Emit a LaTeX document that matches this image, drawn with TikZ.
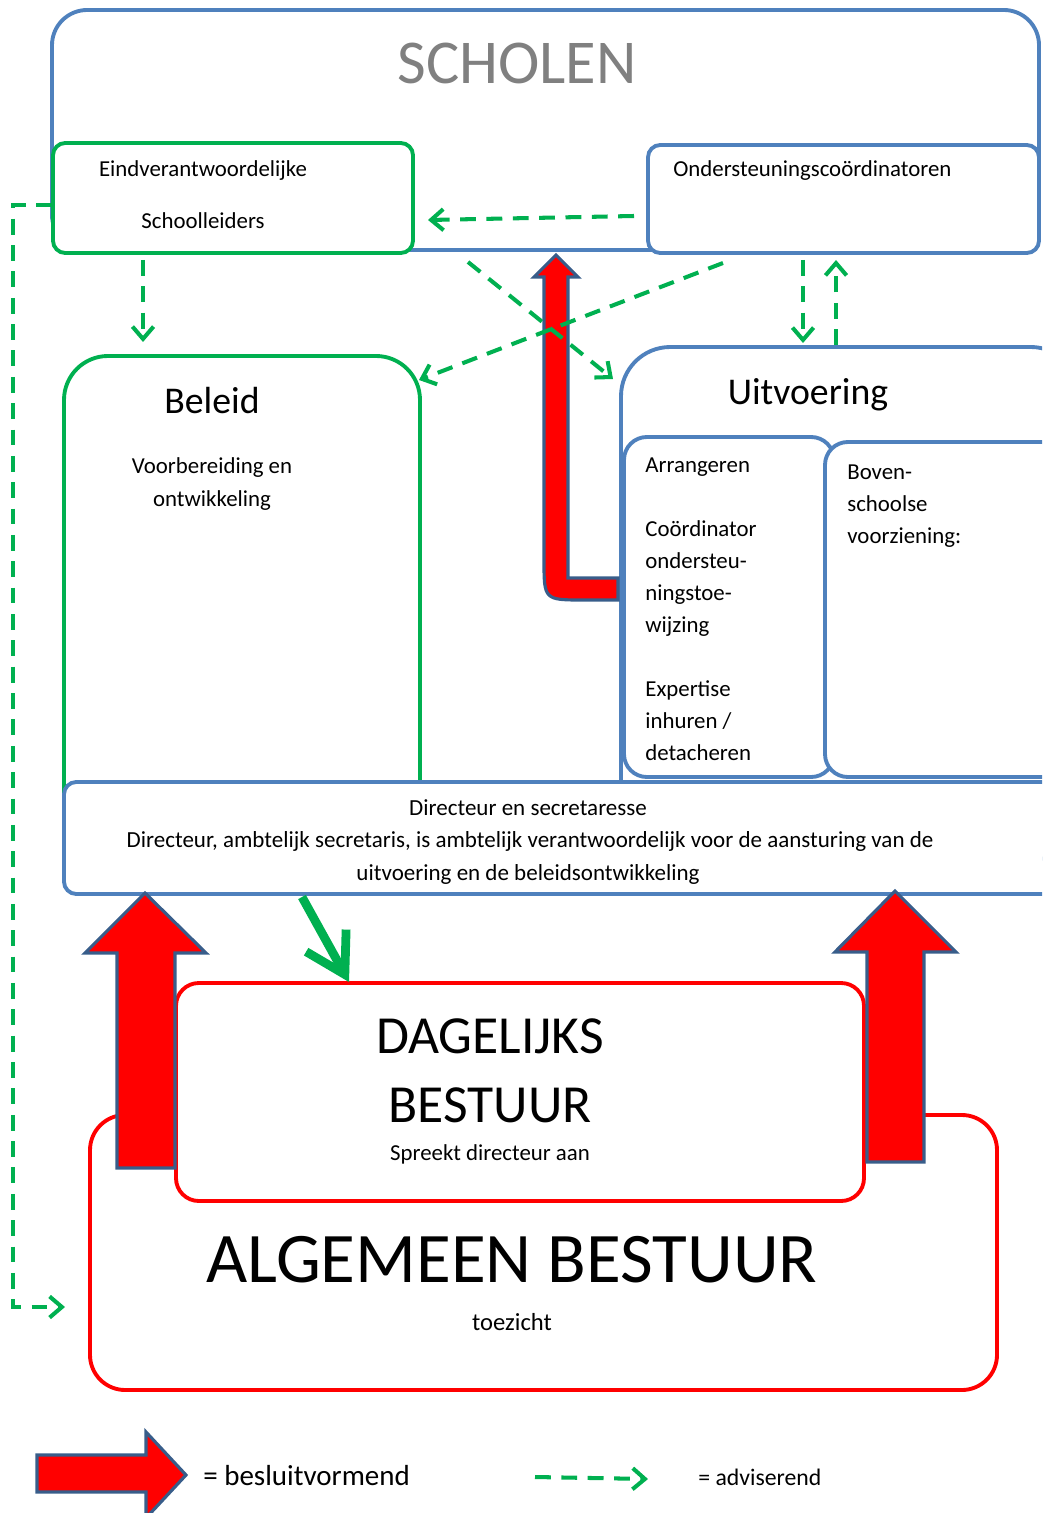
\documentclass[tikz,border=0pt]{standalone}
\usepackage{fontspec}
\setmainfont{Carlito}
\usetikzlibrary{arrows.meta,fit}
\definecolor{kaderblauw}{RGB}{79,129,189}
\definecolor{pijlrand}{RGB}{56,93,138}
\definecolor{advgroen}{RGB}{0,176,80}
\definecolor{besrood}{RGB}{255,0,0}
\definecolor{titelgrijs}{RGB}{128,128,128}
\newcommand{\grootte}[2]{\fontsize{#1}{#2}\selectfont}

\begin{document}
\begin{tikzpicture}[x=0.02cm, y=-0.02cm,
	blauwkader/.style={draw=kaderblauw, line width=2.2pt, fill=white, inner sep=0pt, rounded corners=#1},
	blauwkader/.default=7pt,
	groenkader/.style={draw=advgroen, line width=2.2pt, fill=white, inner sep=0pt, rounded corners=#1},
	groenkader/.default=7pt,
	roodkader/.style={draw=besrood, line width=2.2pt, fill=white, inner sep=0pt, rounded corners=#1},
	roodkader/.default=13pt,
	tekst/.style={inner sep=0pt, anchor=base, font=\grootte{13}{18}},
	lijst/.style={inner sep=0pt, anchor=base west, align=left, font=\grootte{13}{18.2}},
	advies/.style={draw=advgroen, line width=2.3pt, dash pattern=on 9pt off 6pt, -{Straight Barb[length=7pt,width=12pt]}},
	besluit/.style={draw=pijlrand, line width=1.8pt, fill=besrood, line join=miter}]
	\clip (0,0) rectangle (1042,1513);
	\node[blauwkader=20pt, fit={(52,10) (1039,250)}] (scholen) {};
	\node[tekst, text=titelgrijs, font=\grootte{35.5}{40}] (scholentitel) at (517,84) {SCHOLEN};
	\node[groenkader, fit={(53,143) (413,253)}] (eind) {};
	\node[tekst] (eindtekst) at (203,177) {Eindverantwoordelijke};
	\node[tekst] (schoolleiders) at (203,229) {Schoolleiders};
	\node[blauwkader, fit={(648,145) (1039,253)}] (onderst) {};
	\node[tekst, anchor=base west] (onderstekst) at (673,177) {Ondersteuningscoördinatoren};

	\node[groenkader=25pt, fit={(64,356) (420,860)}] (beleid) {};
	\node[tekst, font=\grootte{21.5}{26}] (beleidtitel) at (212,414) {Beleid};
	\node[tekst] (beleidtekst1) at (212,473) {Voorbereiding en};
	\node[tekst] (beleidtekst2) at (212,506) {ontwikkeling};
	\node[blauwkader=28pt, fit={(621,347) (1080,860)}] (uitvoering) {};
	\node[tekst, font=\grootte{21.5}{26}] (uitvoeringtitel) at (808,404) {Uitvoering};
	\node[blauwkader=13pt, fit={(624,437) (834,777)}] (arrangeren) {};
	\node[blauwkader=13pt, fit={(825,442) (1075,777)}] (boven) {};
	\node[lijst] (arrtekst) at (645,760) {Arrangeren\\[18.2pt]Coördinator\\ondersteu-\\ningstoe-\\wijzing\\[18.2pt]Expertise\\inhuren /\\detacheren};
	\node[lijst] (boventekst) at (847,543) {Boven-\\schoolse\\voorziening:};

	\node[blauwkader, fit={(64,782) (1080,894)}] (directeur) {};
	\node[tekst, font=\grootte{13.1}{18}] (dirtekst1) at (528,815) {Directeur en secretaresse};
	\node[tekst, font=\grootte{13.1}{18}] (dirtekst2) at (530,847) {Directeur, ambtelijk secretaris, is ambtelijk verantwoordelijk voor de aansturing van de};
	\node[tekst, font=\grootte{13.1}{18}] (dirtekst3) at (528,880) {uitvoering en de beleidsontwikkeling};

	\node[roodkader=20pt, fit={(90,1115) (997,1390)}] (algemeen) {};
	\node[roodkader, fit={(176,983) (864,1201)}] (dagelijks) {};
	\node[tekst, font=\grootte{30.5}{36}] (dbtitel1) at (490,1053) {DAGELIJKS};
	\node[tekst, font=\grootte{30.5}{36}] (dbtitel2) at (490,1122) {BESTUUR};
	\node[tekst] (dbtekst) at (490,1160) {Spreekt directeur aan};
	\node[tekst, font=\grootte{40.5}{48}] (abtitel) at (512,1282) {ALGEMEEN BESTUUR};
	\node[tekst, font=\grootte{14}{18}] (abtekst) at (512,1330) {toezicht};

	\draw[besluit] (117,1168) -- (117,953) -- (85,953) -- (145,893) -- (206,953) -- (175,953) -- (175,1168) -- cycle;
	\draw[besluit] (867,1162) -- (867,952) -- (835,952) -- (895,891) -- (956,952) -- (924,952) -- (924,1162) -- cycle;
	\draw[besluit] (618,578) -- (568,578) -- (568,277) -- (578,277) -- (556,255) -- (534,277) -- (544,277) -- (544,560) .. controls (544,600) .. (584,600) -- (618,600) -- cycle;

	\coordinate (ondlinks) at (634,216); \coordinate (eindrechts) at (428,220);
	\coordinate (eindonder) at (143,260); \coordinate (beleidboven) at (143,342);
	\coordinate (scholenonder) at (468,262); \coordinate (uitvlinks) at (613,379);
	\coordinate (ondonder) at (723,263); \coordinate (beleidrechts) at (419,380);
	\coordinate (ondneer) at (803,260); \coordinate (uitvneer) at (803,343);
	\coordinate (uitvop) at (836,345); \coordinate (ondop) at (836,260);
	\coordinate (eindlinks) at (52,205); \coordinate (abpijl) at (65,1307);
	\draw[advies] (ondlinks) -- (eindrechts);
	\draw[advies] (eindonder) -- (beleidboven);
	\draw[advies] (scholenonder) -- (uitvlinks);
	\draw[advies] (ondonder) -- (beleidrechts);
	\draw[advies] (ondneer) -- (uitvneer);
	\draw[advies] (uitvop) -- (ondop);
	\draw[advies] (eindlinks) -- (13,205) -- (13,1307) -- (abpijl);
	\coordinate (dirgroen) at (302,897); \coordinate (dbgroen) at (349,982);
	\draw[draw=advgroen, line width=5pt, -{Straight Barb[length=22pt,width=26pt]}] (dirgroen) -- (dbgroen);

	\draw[besluit] (37,1455) -- (146,1455) -- (146,1432) -- (186,1475) -- (146,1518) -- (146,1492) -- (37,1492) -- cycle;
	\node[tekst, anchor=base west, font=\grootte{16.5}{20}] (legbesluit) at (203,1485) {= besluitvormend};
	\coordinate (legstart) at (535,1477); \coordinate (legeind) at (648,1479);
	\draw[advies] (legstart) -- (legeind);
	\node[tekst, anchor=base west, font=\grootte{13.5}{18}] (legadvies) at (698,1485) {= adviserend};
\end{tikzpicture}
\end{document}
